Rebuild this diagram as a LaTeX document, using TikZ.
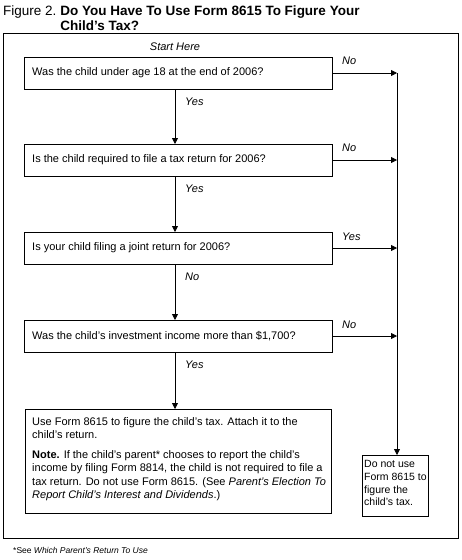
\documentclass[tikz,border=0pt]{standalone}
\usepackage{fontspec}
\setmainfont{Liberation Sans}
\usetikzlibrary{arrows.meta}
\begin{document}
\begin{tikzpicture}[x=1pt,y=-1pt,
  qbox/.style={draw,line width=0.8pt,inner sep=0pt},
  qtext/.style={anchor=west,font=\fontsize{11}{13}\selectfont,inner sep=0pt},
  lab/.style={anchor=west,font=\fontsize{11}{13}\selectfont\itshape,inner sep=0pt},
  arr/.style={line width=0.8pt,-{Triangle[length=6pt,width=6pt]}},
  ln/.style={line width=0.8pt}]
\useasboundingbox (0,0) rectangle (462,560);
% title
\node[anchor=north west,inner sep=0pt,font=\fontsize{13.5}{15}\selectfont] (title) at (3,5)
  {\begin{tabular}{@{}l@{\hspace{4pt}}l@{}}Figure 2. & \textbf{Do You Have To Use Form 8615 To Figure Your}\\ & \textbf{Child’s Tax?}\end{tabular}};
% frame
\draw[ln] (3,33) rectangle (458,538);
\node[font=\fontsize{11}{13}\selectfont\itshape,inner sep=0pt] (start) at (175,47) {Start Here};
% boxes
\draw[qbox] (24,57) rectangle (332,89);
\node[qtext] (q1) at (32,73) {Was the child under age 18 at the end of 2006?};
\draw[qbox] (24,144) rectangle (332,176);
\node[qtext] (q2) at (32,160) {Is the child required to file a tax return for 2006?};
\draw[qbox] (24,232) rectangle (332,264);
\node[qtext] (q3) at (32,248) {Is your child filing a joint return for 2006?};
\draw[qbox] (24,320) rectangle (332,352);
\node[qtext] (q4) at (32,336) {Was the child’s investment income more than \$1,700?};
\draw[qbox] (25,409) rectangle (331,513);
\node[anchor=north west,inner sep=0pt,align=left,font=\fontsize{11}{13.5}\selectfont] (q5) at (32,417) {Use Form 8615 to figure the child’s tax. Attach it to the\\child’s return.\\[6pt]
\textbf{Note.} If the child’s parent* chooses to report the child’s\\income by filing Form 8814, the child is not required to file a\\tax return. Do not use Form 8615. (See \textit{Parent’s Election To}\\\textit{Report Child’s Interest and Dividends}.)};
\draw[qbox] (362,455) rectangle (428,516);
\node[anchor=north west,inner sep=0pt,align=left,font=\fontsize{10.5}{12.8}\selectfont] (q6) at (364,460) {Do not use\\Form 8615 to\\figure the\\child’s tax.};
% coordinates
\coordinate (b1s) at (175,89); \coordinate (b2n) at (175,144);
\coordinate (b2s) at (175,176); \coordinate (b3n) at (175,232);
\coordinate (b3s) at (175,264); \coordinate (b4n) at (175,320);
\coordinate (b4s) at (175,352); \coordinate (b5n) at (175,409);
\coordinate (r1) at (332,73); \coordinate (r2) at (332,160);
\coordinate (r3) at (332,248); \coordinate (r4) at (332,336);
\coordinate (v1) at (397,73); \coordinate (v2) at (397,160);
\coordinate (v3) at (397,248); \coordinate (v4) at (397,336);
\coordinate (b6n) at (397,455);
% vertical arrows
\draw[arr] (b1s) -- (b2n);
\draw[arr] (b2s) -- (b3n);
\draw[arr] (b3s) -- (b4n);
\draw[arr] (b4s) -- (b5n);
\node[lab] (y1) at (185,102) {Yes};
\node[lab] (y2) at (185,189) {Yes};
\node[lab] (n3) at (185,277) {No};
\node[lab] (y4) at (185,365) {Yes};
% right arrows
\draw[arr] (r1) -- (v1);
\draw[arr] (r2) -- (v2);
\draw[arr] (r3) -- (v3);
\draw[arr] (r4) -- (v4);
\node[lab] (n1) at (342,61) {No};
\node[lab] (n2) at (342,148) {No};
\node[lab] (y3) at (342,237) {Yes};
\node[lab] (n4) at (342,325) {No};
\draw[arr] (v1) -- (b6n);
% footnote
\node[anchor=west,inner sep=0pt,font=\fontsize{8.5}{10}\selectfont] (fn) at (13,550) {*See \textit{Which Parent’s Return To Use}};
\end{tikzpicture}
\end{document}
